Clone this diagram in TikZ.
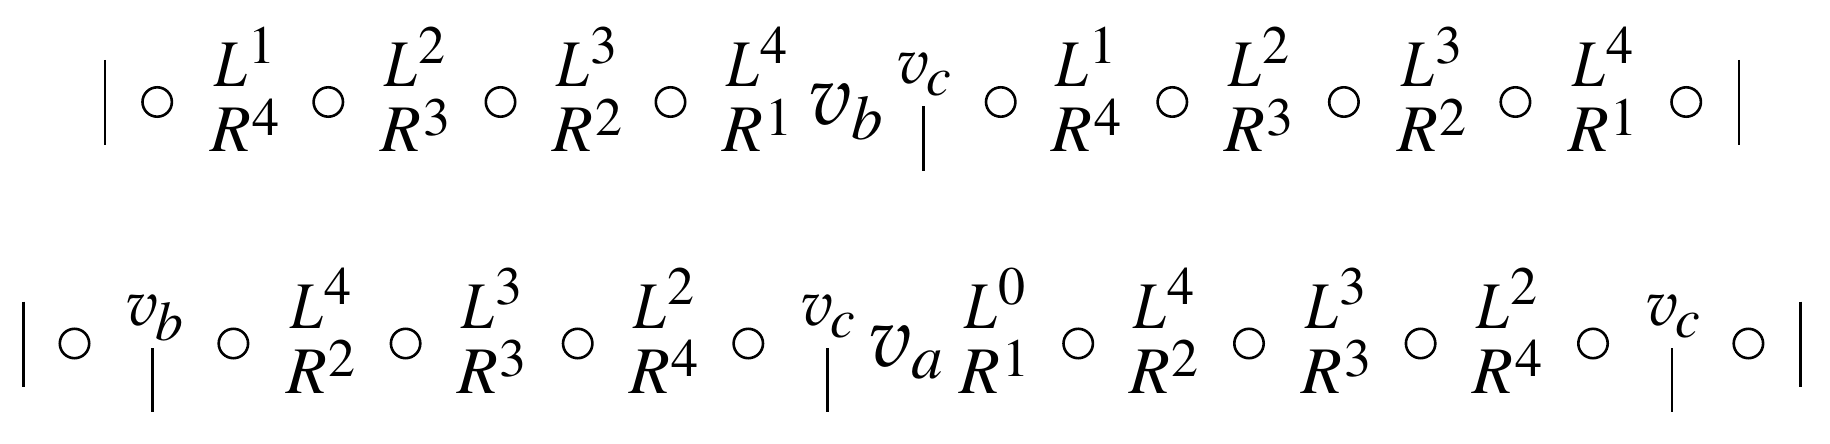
\documentclass[tikz,border=0pt]{standalone}
\usepackage{mathptmx}
\usepackage{graphicx}
\newcommand\pv{{\usefont{OML}{zplm}{m}{it}v}}
\begin{document}
\begin{tikzpicture}[x=0.5pt,y=-0.5pt,
  every node/.style={inner sep=0pt,outer sep=0pt},
  ring/.style={circle,draw,line width=1.3pt,minimum size=14.7pt},
  barline/.style={line width=1.2pt}]
\useasboundingbox (0,0) rectangle (1830,444);
% generic group: name, x, y(baseline), base size, base, kern, raise, script size, script
\newcommand\grp[9]{%
  \node[anchor=base west] (#1) at (#2,#3)
    {\fontsize{#4}{#4}\selectfont\makebox[0pt][l]{#5}\hspace*{#6}\raisebox{#7}{\fontsize{#8}{#8}\selectfont$#9$}};}
% L/R stack as one node: name, L ink x, dy, Lsup, Rsup
\newcommand\LRpair[5]{%
  \node[anchor=base west] (#1) at ({#2-3.6},{151.7+#3})
   {\fontsize{33.3}{33.3}\selectfont
    \makebox[0pt][l]{\hspace*{2.05pt}\raisebox{32.5pt}{\makebox[0pt][l]{\scalebox{0.88}[1]{$L$}}\hspace*{17pt}\raisebox{11.85pt}{\fontsize{27}{27}\selectfont$#4$}}}%
    \makebox[0pt][l]{$R$}\hspace*{21.2pt}\raisebox{8.35pt}{\fontsize{27}{27}\selectfont$#5$}};}
% script v with subscript and bar below: name, x, dy, sub, drop
\newcommand\SV[5]{%
  \grp{#1}{{#2}}{{84+#3}}{31.9}{\pv}{15pt}{-#5}{27.8}{#4}
  \coordinate (#1t) at ({#2+27},{106.5+#3});
  \coordinate (#1b) at ({#2+27},{170.5+#3});
  \draw[barline] (#1t) -- (#1b);}
% ---------- row 1 ----------
\coordinate (A0t) at (105,60); \coordinate (A0b) at (105,145.3);
\draw[barline] (A0t) -- (A0b);
\foreach \n/\x in {1/157.2,2/328.3,3/500.5,4/670.5,5/1000.7,6/1172.3,7/1343.9,8/1515.4,9/1686.2}
  \node[ring] (ra\n) at (\x,102) {};
\LRpair{pa1}{213.8}{0}{1}{4}
\LRpair{pa2}{384.4}{0}{2}{3}
\LRpair{pa3}{556.3}{0}{3}{2}
\LRpair{pa4}{726.4}{0}{4}{1}
\grp{vb1}{808}{124.5}{42.5}{\pv}{21.7pt}{-7.75pt}{31.5}{b}
\SV{vc1}{896.4}{0}{c}{5.75pt}
\LRpair{pa5}{1055.2}{0}{1}{4}
\LRpair{pa6}{1228.1}{0}{2}{3}
\LRpair{pa7}{1400.9}{0}{3}{2}
\LRpair{pa8}{1571.6}{0}{4}{1}
\coordinate (A1t) at (1739.2,60); \coordinate (A1b) at (1739.2,145.3);
\draw[barline] (A1t) -- (A1b);
% ---------- row 2 ----------
\coordinate (B0t) at (23.3,301.5); \coordinate (B0b) at (23.3,386.5);
\draw[barline] (B0t) -- (B0b);
\foreach \n/\x in {1/74.5,2/233.4,3/405.6,4/577.7,5/748.3,6/1078.2,7/1249,8/1420.6,9/1593,10/1748.4}
  \node[ring] (rb\n) at (\x,343.5) {};
\SV{vb2}{125.5}{241.5}{b}{7.5pt}
\LRpair{pb1}{289.8}{241.5}{4}{2}
\LRpair{pb2}{461}{241.5}{3}{3}
\LRpair{pb3}{633}{241.5}{2}{4}
\SV{vc2}{800.4}{241.5}{c}{5.75pt}
\grp{va2}{868.4}{366}{42.5}{\pv}{21.7pt}{-6pt}{31.5}{a}
\LRpair{pb4}{963.5}{241.5}{0}{1}
\LRpair{pb5}{1133}{241.5}{4}{2}
\LRpair{pb6}{1305.3}{241.5}{3}{3}
\LRpair{pb7}{1476.4}{241.5}{2}{4}
\SV{vc3}{1645.2}{241.5}{c}{5.75pt}
\coordinate (B1t) at (1800.6,301.5); \coordinate (B1b) at (1800.6,386.5);
\draw[barline] (B1t) -- (B1b);
\end{tikzpicture}
\end{document}
